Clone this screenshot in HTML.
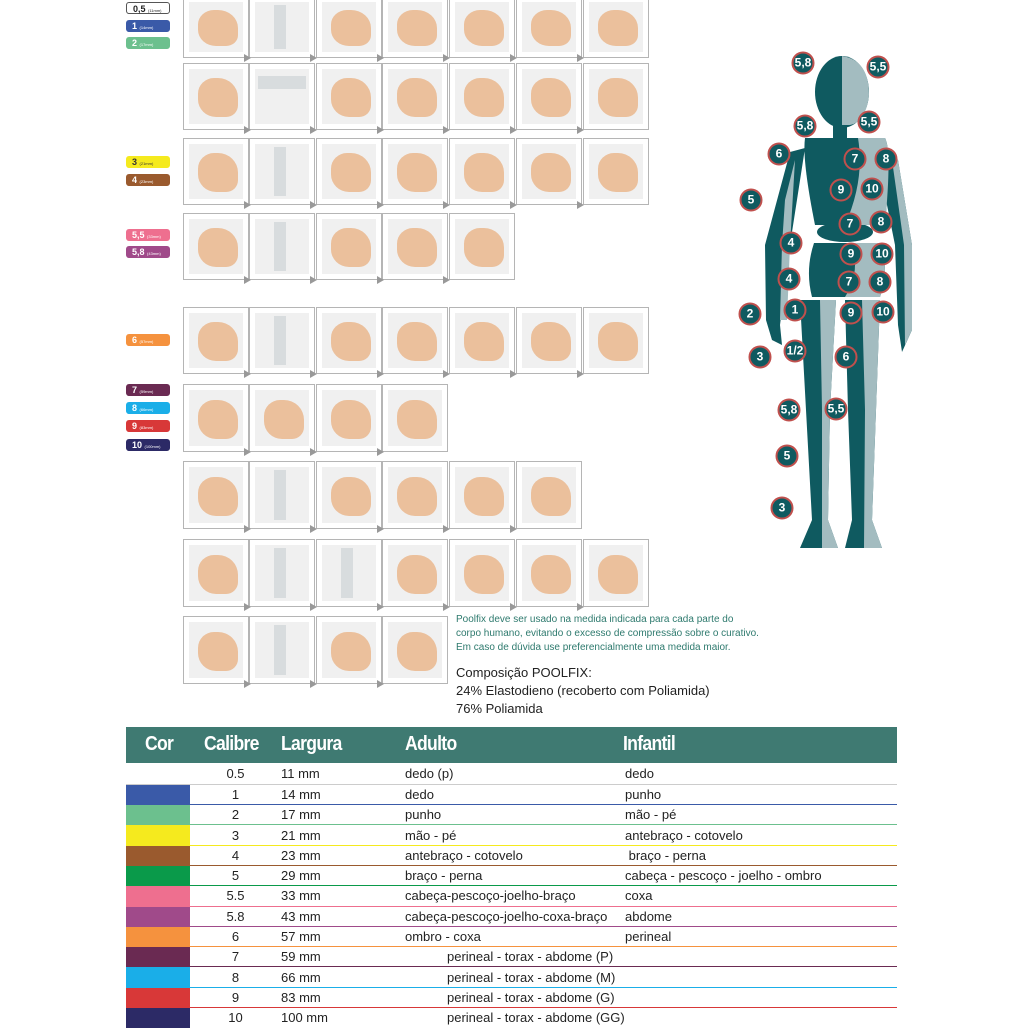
<!DOCTYPE html>
<html><head><meta charset="utf-8"><style>
*{margin:0;padding:0;box-sizing:border-box}
body{width:1024px;height:1024px;position:relative;background:#fff;overflow:hidden;font-family:"Liberation Sans",sans-serif}
.b{position:absolute;width:66px;border:1px solid #b5b5b5;background:#fff}
.b i{position:absolute;left:5px;right:5px;top:5px;bottom:5px;background:#f0f0f0}
.b u{position:absolute;left:14px;right:10px;top:22%;bottom:18%;background:#ebc09c;border-radius:40% 50% 30% 45%}
.b s{position:absolute;left:24px;width:12px;top:8px;bottom:8px;background:#d8dcde}
.a{position:absolute;width:0;height:0;border-left:7px solid #999;border-top:4px solid transparent;border-bottom:4px solid transparent}
.l{position:absolute;left:126px;width:44px;height:12px;border-radius:3px;color:#fff;font-size:9px;font-weight:bold;padding-left:6px;line-height:12px}
.l small{font-size:4px;font-weight:normal}
.c{position:absolute;width:23px;height:23px;border-radius:50%;background:#0f5a60;border:2px solid #c0504d;color:#fff;font-size:12px;font-weight:bold;text-align:center;line-height:19px;transform:translate(-50%,-50%)}
.hd{position:absolute;left:126px;top:727px;width:771px;height:36px;background:#3f7a72}
.hd span{position:absolute;top:6px;color:#fff;font-size:20px;font-weight:bold;letter-spacing:-0.8px;transform:scaleX(0.88);transform-origin:left}
table{position:absolute;left:126px;top:764px;width:771px;border-collapse:collapse;table-layout:fixed}
td{height:20.3px;font-size:13px;color:#222;padding:0;white-space:nowrap}
.t{position:absolute;left:456px;font-size:10px;color:#2e7a6e}
.k{position:absolute;left:456px;font-size:13px;color:#222}
</style></head><body>

<div class="l" style="top:2px;background:#fff;border:1px solid #555;color:#222">0,5 <small>(11mm)</small></div>
<div class="l" style="top:20px;background:#3a5aa8">1 <small>(14mm)</small></div>
<div class="l" style="top:37px;background:#6cc08e">2 <small>(17mm)</small></div>
<div class="l" style="top:156px;background:#f5ea1e;color:#333">3 <small>(21mm)</small></div>
<div class="l" style="top:174px;background:#9a5a2e">4 <small>(23mm)</small></div>
<div class="l" style="top:229px;background:#ee6f8f">5,5 <small>(33mm)</small></div>
<div class="l" style="top:246px;background:#a04a8a">5,8 <small>(43mm)</small></div>
<div class="l" style="top:334px;background:#f5923e">6 <small>(57mm)</small></div>
<div class="l" style="top:384px;background:#6a2a52">7 <small>(59mm)</small></div>
<div class="l" style="top:402px;background:#1aaee8">8 <small>(66mm)</small></div>
<div class="l" style="top:420px;background:#d83838">9 <small>(83mm)</small></div>
<div class="l" style="top:439px;background:#2c2a66">10 <small>(100mm)</small></div>

<div class="b" style="left:183px;top:-4px;height:62px"><i></i><u></u></div>
<div class="b" style="left:249px;top:-4px;height:62px"><i></i><s></s></div>
<div class="b" style="left:316px;top:-4px;height:62px"><i></i><u></u></div>
<div class="b" style="left:382px;top:-4px;height:62px"><i></i><u></u></div>
<div class="b" style="left:449px;top:-4px;height:62px"><i></i><u></u></div>
<div class="b" style="left:516px;top:-4px;height:62px"><i></i><u></u></div>
<div class="b" style="left:583px;top:-4px;height:62px"><i></i><u></u></div>
<div class="b" style="left:183px;top:63px;height:67px"><i></i><u></u></div>
<div class="b" style="left:249px;top:63px;height:67px"><i></i><s style="left:8px;right:8px;width:auto;top:12px;bottom:40px"></s></div>
<div class="b" style="left:316px;top:63px;height:67px"><i></i><u></u></div>
<div class="b" style="left:382px;top:63px;height:67px"><i></i><u></u></div>
<div class="b" style="left:449px;top:63px;height:67px"><i></i><u></u></div>
<div class="b" style="left:516px;top:63px;height:67px"><i></i><u></u></div>
<div class="b" style="left:583px;top:63px;height:67px"><i></i><u></u></div>
<div class="b" style="left:183px;top:138px;height:67px"><i></i><u></u></div>
<div class="b" style="left:249px;top:138px;height:67px"><i></i><s></s></div>
<div class="b" style="left:316px;top:138px;height:67px"><i></i><u></u></div>
<div class="b" style="left:382px;top:138px;height:67px"><i></i><u></u></div>
<div class="b" style="left:449px;top:138px;height:67px"><i></i><u></u></div>
<div class="b" style="left:516px;top:138px;height:67px"><i></i><u></u></div>
<div class="b" style="left:583px;top:138px;height:67px"><i></i><u></u></div>
<div class="b" style="left:183px;top:213px;height:67px"><i></i><u></u></div>
<div class="b" style="left:249px;top:213px;height:67px"><i></i><s></s></div>
<div class="b" style="left:316px;top:213px;height:67px"><i></i><u></u></div>
<div class="b" style="left:382px;top:213px;height:67px"><i></i><u></u></div>
<div class="b" style="left:449px;top:213px;height:67px"><i></i><u></u></div>
<div class="b" style="left:183px;top:307px;height:67px"><i></i><u></u></div>
<div class="b" style="left:249px;top:307px;height:67px"><i></i><s></s></div>
<div class="b" style="left:316px;top:307px;height:67px"><i></i><u></u></div>
<div class="b" style="left:382px;top:307px;height:67px"><i></i><u></u></div>
<div class="b" style="left:449px;top:307px;height:67px"><i></i><u></u></div>
<div class="b" style="left:516px;top:307px;height:67px"><i></i><u></u></div>
<div class="b" style="left:583px;top:307px;height:67px"><i></i><u></u></div>
<div class="b" style="left:183px;top:384px;height:68px"><i></i><u></u></div>
<div class="b" style="left:249px;top:384px;height:68px"><i></i><u></u></div>
<div class="b" style="left:316px;top:384px;height:68px"><i></i><u></u></div>
<div class="b" style="left:382px;top:384px;height:68px"><i></i><u></u></div>
<div class="b" style="left:183px;top:461px;height:68px"><i></i><u></u></div>
<div class="b" style="left:249px;top:461px;height:68px"><i></i><s></s></div>
<div class="b" style="left:316px;top:461px;height:68px"><i></i><u></u></div>
<div class="b" style="left:382px;top:461px;height:68px"><i></i><u></u></div>
<div class="b" style="left:449px;top:461px;height:68px"><i></i><u></u></div>
<div class="b" style="left:516px;top:461px;height:68px"><i></i><u></u></div>
<div class="b" style="left:183px;top:539px;height:68px"><i></i><u></u></div>
<div class="b" style="left:249px;top:539px;height:68px"><i></i><s></s></div>
<div class="b" style="left:316px;top:539px;height:68px"><i></i><s></s></div>
<div class="b" style="left:382px;top:539px;height:68px"><i></i><u></u></div>
<div class="b" style="left:449px;top:539px;height:68px"><i></i><u></u></div>
<div class="b" style="left:516px;top:539px;height:68px"><i></i><u></u></div>
<div class="b" style="left:583px;top:539px;height:68px"><i></i><u></u></div>
<div class="b" style="left:183px;top:616px;height:68px"><i></i><u></u></div>
<div class="b" style="left:249px;top:616px;height:68px"><i></i><s></s></div>
<div class="b" style="left:316px;top:616px;height:68px"><i></i><u></u></div>
<div class="b" style="left:382px;top:616px;height:68px"><i></i><u></u></div>

<div class="a" style="left:244px;top:54px"></div><div class="a" style="left:310px;top:54px"></div><div class="a" style="left:377px;top:54px"></div><div class="a" style="left:443px;top:54px"></div><div class="a" style="left:510px;top:54px"></div><div class="a" style="left:577px;top:54px"></div>
<div class="a" style="left:244px;top:126px"></div><div class="a" style="left:310px;top:126px"></div><div class="a" style="left:377px;top:126px"></div><div class="a" style="left:443px;top:126px"></div><div class="a" style="left:510px;top:126px"></div><div class="a" style="left:577px;top:126px"></div>
<div class="a" style="left:244px;top:201px"></div><div class="a" style="left:310px;top:201px"></div><div class="a" style="left:377px;top:201px"></div><div class="a" style="left:443px;top:201px"></div><div class="a" style="left:510px;top:201px"></div><div class="a" style="left:577px;top:201px"></div>
<div class="a" style="left:244px;top:276px"></div><div class="a" style="left:310px;top:276px"></div><div class="a" style="left:377px;top:276px"></div><div class="a" style="left:443px;top:276px"></div>
<div class="a" style="left:244px;top:370px"></div><div class="a" style="left:310px;top:370px"></div><div class="a" style="left:377px;top:370px"></div><div class="a" style="left:443px;top:370px"></div><div class="a" style="left:510px;top:370px"></div><div class="a" style="left:577px;top:370px"></div>
<div class="a" style="left:244px;top:448px"></div><div class="a" style="left:310px;top:448px"></div><div class="a" style="left:377px;top:448px"></div>
<div class="a" style="left:244px;top:525px"></div><div class="a" style="left:310px;top:525px"></div><div class="a" style="left:377px;top:525px"></div><div class="a" style="left:443px;top:525px"></div><div class="a" style="left:510px;top:525px"></div>
<div class="a" style="left:244px;top:603px"></div><div class="a" style="left:310px;top:603px"></div><div class="a" style="left:377px;top:603px"></div><div class="a" style="left:443px;top:603px"></div><div class="a" style="left:510px;top:603px"></div><div class="a" style="left:577px;top:603px"></div>
<div class="a" style="left:244px;top:680px"></div><div class="a" style="left:310px;top:680px"></div><div class="a" style="left:377px;top:680px"></div>

<div class="t" style="top:614px">Poolfix deve ser usado na medida indicada para cada parte do</div>
<div class="t" style="top:628px">corpo humano, evitando o excesso de compressão sobre o curativo.</div>
<div class="t" style="top:642px">Em caso de dúvida use preferencialmente uma medida maior.</div>
<div class="k" style="top:665px">Composição POOLFIX:</div>
<div class="k" style="top:683px">24% Elastodieno (recoberto com Poliamida)</div>
<div class="k" style="top:701px">76% Poliamida</div>

<svg style="position:absolute;left:0;top:0" width="1024" height="1024">
<g fill="#0f5a60">
<ellipse cx="842" cy="92" rx="27" ry="36"/>
<rect x="833" y="120" width="14" height="18"/>
<path d="M805 138 L885 138 Q892 150 885 225 L815 225 Q802 160 805 138Z"/>
<ellipse cx="845" cy="232" rx="28" ry="10"/>
<path d="M814 243 L880 243 Q890 270 880 297 L812 297 Q805 270 814 243Z"/>
<path d="M800 300 L836 300 L830 410 L828 520 L838 548 L800 548 L812 520 L806 410Z"/>
<path d="M845 300 L880 300 L876 410 L872 520 L882 548 L845 548 L852 520 L848 410Z"/>
<path d="M790 152 L805 148 L790 245 L780 325 L782 345 L772 340 L766 320 L765 245Z"/>
<path d="M885 150 L898 160 L912 245 L912 330 L902 352 L898 325 L895 245 L882 180Z"/>
</g>
<g fill="#a3bcc0">
<path d="M842 56 Q869 60 869 95 Q866 122 850 125 L842 125Z"/>
<path d="M858 138 L885 138 Q892 150 885 225 L845 225 Q865 180 858 138Z"/>
<path d="M850 243 L880 243 Q890 270 880 297 L845 297 Q862 270 850 243Z"/>
<path d="M820 300 L836 300 L830 410 L828 520 L838 548 L822 548 L822 410Z"/>
<path d="M862 300 L880 300 L876 410 L872 520 L882 548 L864 548 L865 410Z"/>
<path d="M892 160 L898 160 L912 245 L912 330 L905 345 L904 245Z"/>
<path d="M785 200 L795 160 L790 245 L787 320 L780 320 L782 245Z"/>
</g>
</svg>
<div class="c" style="left:803px;top:63px">5,8</div>
<div class="c" style="left:878px;top:67px">5,5</div>
<div class="c" style="left:805px;top:126px">5,8</div>
<div class="c" style="left:869px;top:122px">5,5</div>
<div class="c" style="left:779px;top:154px">6</div>
<div class="c" style="left:855px;top:159px">7</div>
<div class="c" style="left:886px;top:159px">8</div>
<div class="c" style="left:841px;top:190px">9</div>
<div class="c" style="left:872px;top:189px">10</div>
<div class="c" style="left:751px;top:200px">5</div>
<div class="c" style="left:850px;top:224px">7</div>
<div class="c" style="left:881px;top:222px">8</div>
<div class="c" style="left:791px;top:243px">4</div>
<div class="c" style="left:851px;top:254px">9</div>
<div class="c" style="left:882px;top:254px">10</div>
<div class="c" style="left:789px;top:279px">4</div>
<div class="c" style="left:849px;top:282px">7</div>
<div class="c" style="left:880px;top:282px">8</div>
<div class="c" style="left:750px;top:314px">2</div>
<div class="c" style="left:795px;top:310px">1</div>
<div class="c" style="left:851px;top:313px">9</div>
<div class="c" style="left:883px;top:312px">10</div>
<div class="c" style="left:760px;top:357px">3</div>
<div class="c" style="left:795px;top:351px">1/2</div>
<div class="c" style="left:846px;top:357px">6</div>
<div class="c" style="left:789px;top:410px">5,8</div>
<div class="c" style="left:836px;top:409px">5,5</div>
<div class="c" style="left:787px;top:456px">5</div>
<div class="c" style="left:782px;top:508px">3</div>

<div class="hd">
<span style="left:19px">Cor</span>
<span style="left:78px">Calibre</span>
<span style="left:155px">Largura</span>
<span style="left:279px">Adulto</span>
<span style="left:497px">Infantil</span>
</div>
<table>
<colgroup><col style="width:64px"><col style="width:91px"><col style="width:124px"><col style="width:220px"><col></colgroup>
<tr style="border-bottom:1px solid #ccc"><td></td><td style="text-align:center">0.5</td><td>11 mm</td><td>dedo (p)</td><td>dedo</td></tr>
<tr style="border-bottom:1px solid #3a5aa8"><td style="background:#3a5aa8"></td><td style="text-align:center">1</td><td>14 mm</td><td>dedo</td><td>punho</td></tr>
<tr style="border-bottom:1px solid #6cc08e"><td style="background:#6cc08e"></td><td style="text-align:center">2</td><td>17 mm</td><td>punho</td><td>mão - pé</td></tr>
<tr style="border-bottom:1px solid #f5ea1e"><td style="background:#f5ea1e"></td><td style="text-align:center">3</td><td>21 mm</td><td>mão - pé</td><td>antebraço - cotovelo</td></tr>
<tr style="border-bottom:1px solid #9a5a2e"><td style="background:#9a5a2e"></td><td style="text-align:center">4</td><td>23 mm</td><td>antebraço - cotovelo</td><td>&nbsp;braço - perna</td></tr>
<tr style="border-bottom:1px solid #0a9a4a"><td style="background:#0a9a4a"></td><td style="text-align:center">5</td><td>29 mm</td><td>braço - perna</td><td>cabeça - pescoço - joelho - ombro</td></tr>
<tr style="border-bottom:1px solid #ee6f8f"><td style="background:#ee6f8f"></td><td style="text-align:center">5.5</td><td>33 mm</td><td>cabeça-pescoço-joelho-braço</td><td>coxa</td></tr>
<tr style="border-bottom:1px solid #a04a8a"><td style="background:#a04a8a"></td><td style="text-align:center">5.8</td><td>43 mm</td><td>cabeça-pescoço-joelho-coxa-braço</td><td>abdome</td></tr>
<tr style="border-bottom:1px solid #f5923e"><td style="background:#f5923e"></td><td style="text-align:center">6</td><td>57 mm</td><td>ombro - coxa</td><td>perineal</td></tr>
<tr style="border-bottom:1px solid #6a2a52"><td style="background:#6a2a52"></td><td style="text-align:center">7</td><td>59 mm</td><td colspan="2" style="padding-left:42px">perineal - torax - abdome (P)</td></tr>
<tr style="border-bottom:1px solid #1aaee8"><td style="background:#1aaee8"></td><td style="text-align:center">8</td><td>66 mm</td><td colspan="2" style="padding-left:42px">perineal - torax - abdome (M)</td></tr>
<tr style="border-bottom:1px solid #d83838"><td style="background:#d83838"></td><td style="text-align:center">9</td><td>83 mm</td><td colspan="2" style="padding-left:42px">perineal - torax - abdome (G)</td></tr>
<tr><td style="background:#2c2a66"></td><td style="text-align:center">10</td><td>100 mm</td><td colspan="2" style="padding-left:42px">perineal - torax - abdome (GG)</td></tr>
</table>
</body></html>
